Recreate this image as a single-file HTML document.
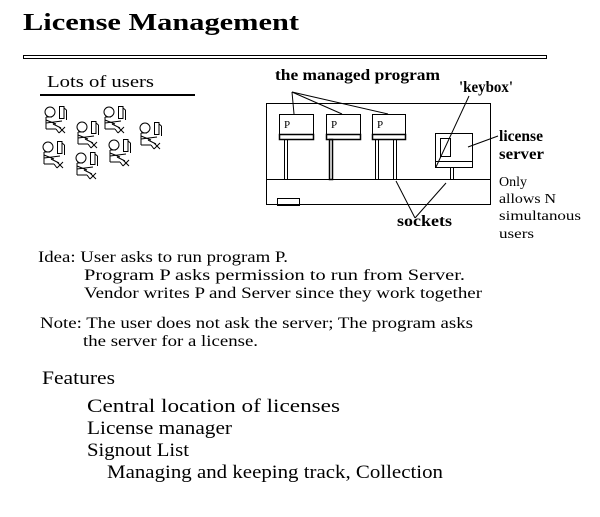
<!DOCTYPE html>
<html><head><style>body{margin:0;background:#fff}svg{display:block}text{font-family:"Liberation Serif",serif;fill:#000}</style></head>
<body>
<svg width="600" height="517" viewBox="0 0 600 517" xmlns="http://www.w3.org/2000/svg">
<defs>
<g id="u" fill="none" stroke="#000" stroke-width="1">
<circle cx="7" cy="6" r="5"/>
<rect x="16.5" y="0.5" width="4.5" height="12"/>
<line x1="21" y1="2" x2="23.5" y2="4"/><line x1="23.5" y1="4" x2="23.5" y2="14"/>
<line x1="3" y1="11" x2="3" y2="23"/><line x1="3" y1="11" x2="9" y2="11"/>
<line x1="3" y1="14" x2="13" y2="18"/><line x1="3" y1="17" x2="19" y2="15"/>
<line x1="3" y1="23" x2="13" y2="23"/><line x1="10" y1="18" x2="18" y2="22"/>
<line x1="13" y1="23" x2="16" y2="27"/><line x1="16" y1="21" x2="22" y2="27"/><line x1="22" y1="21" x2="16" y2="27"/>
</g>
</defs>
<text x="23" y="30" font-size="24" font-weight="bold" textLength="276" lengthAdjust="spacingAndGlyphs">License Management</text>
<rect x="23.5" y="55.5" width="523" height="3" fill="none" stroke="#000"/>
<text x="47" y="87" font-size="17" textLength="107" lengthAdjust="spacingAndGlyphs">Lots of users</text>
<rect x="40" y="94" width="155" height="2" fill="#000"/>
<use href="#u" x="43" y="106"/><use href="#u" x="75" y="121"/><use href="#u" x="102" y="106"/>
<use href="#u" x="138" y="122"/><use href="#u" x="41" y="141"/><use href="#u" x="74" y="152"/><use href="#u" x="107" y="139"/>
<g fill="none" stroke="#000" stroke-width="1">
<rect x="266.5" y="103.5" width="224" height="101"/>
<line x1="266" y1="179.5" x2="491" y2="179.5"/>
<rect x="277.5" y="198.5" width="22" height="7"/>
<rect x="279.5" y="114.5" width="34" height="20"/><rect x="279.5" y="134.5" width="34" height="5" stroke-width="1.5"/>
<rect x="326.5" y="114.5" width="34" height="20"/><rect x="326.5" y="134.5" width="34" height="5" stroke-width="1.5"/>
<rect x="372.5" y="114.5" width="33" height="20"/><rect x="372.5" y="134.5" width="33" height="5" stroke-width="1.5"/>
<rect x="284.5" y="139.5" width="3" height="40"/><rect x="329.5" y="139.5" width="3" height="40" stroke-width="1.5"/>
<rect x="375.5" y="139.5" width="3" height="40"/><rect x="393.5" y="139.5" width="3" height="40"/>
<rect x="435.5" y="133.5" width="37" height="34"/><line x1="435" y1="161.5" x2="473" y2="161.5"/>
<rect x="440.5" y="138.5" width="10" height="18"/>
<rect x="450.5" y="167.5" width="3" height="12"/>
<line x1="292" y1="92" x2="294" y2="114"/><line x1="292" y1="92" x2="342" y2="114"/><line x1="292" y1="92" x2="388" y2="114"/>
<line x1="469" y1="96" x2="436" y2="167"/>
<line x1="498" y1="136" x2="468" y2="147"/>
<line x1="415" y1="218" x2="396" y2="181"/><line x1="415" y1="218" x2="446" y2="183"/>
</g>
<text x="275" y="80" font-size="16" font-weight="bold" textLength="165" lengthAdjust="spacingAndGlyphs">the managed program</text>
<text x="284" y="128" font-size="11" font-family="Liberation Mono">P</text>
<text x="331" y="128" font-size="11" font-family="Liberation Mono">P</text>
<text x="377" y="128" font-size="11" font-family="Liberation Mono">P</text>
<text x="459" y="92" font-size="16" font-weight="bold" textLength="54" lengthAdjust="spacingAndGlyphs">'keybox'</text>
<text x="499" y="141" font-size="16" font-weight="bold" textLength="44" lengthAdjust="spacingAndGlyphs">license</text>
<text x="499" y="159" font-size="16" font-weight="bold" textLength="45" lengthAdjust="spacingAndGlyphs">server</text>
<text x="499" y="186" font-size="14" textLength="28" lengthAdjust="spacingAndGlyphs">Only</text>
<text x="499" y="203" font-size="14" textLength="57" lengthAdjust="spacingAndGlyphs">allows N</text>
<text x="499" y="220" font-size="14" textLength="82" lengthAdjust="spacingAndGlyphs">simultanous</text>
<text x="499" y="238" font-size="14" textLength="35" lengthAdjust="spacingAndGlyphs">users</text>
<text x="397" y="226" font-size="16" font-weight="bold" textLength="55" lengthAdjust="spacingAndGlyphs">sockets</text>
<g font-size="16">
<text x="38" y="262" textLength="250" lengthAdjust="spacingAndGlyphs">Idea: User asks to run program P.</text>
<text x="84" y="280" textLength="381" lengthAdjust="spacingAndGlyphs">Program P asks permission to run from Server.</text>
<text x="84" y="298" textLength="398" lengthAdjust="spacingAndGlyphs">Vendor writes P and Server since they work together</text>
<text x="40" y="328" textLength="433" lengthAdjust="spacingAndGlyphs">Note: The user does not ask the server; The program asks</text>
<text x="83" y="346" textLength="175" lengthAdjust="spacingAndGlyphs">the server for a license.</text>
</g>
<g font-size="19">
<text x="42" y="384" textLength="73" lengthAdjust="spacingAndGlyphs">Features</text>
<text x="87" y="412" textLength="253" lengthAdjust="spacingAndGlyphs">Central location of licenses</text>
<text x="87" y="434" textLength="145" lengthAdjust="spacingAndGlyphs">License manager</text>
<text x="87" y="456" textLength="102" lengthAdjust="spacingAndGlyphs">Signout List</text>
<text x="107" y="478" textLength="336" lengthAdjust="spacingAndGlyphs">Managing and keeping track, Collection</text>
</g>
</svg>
</body></html>
